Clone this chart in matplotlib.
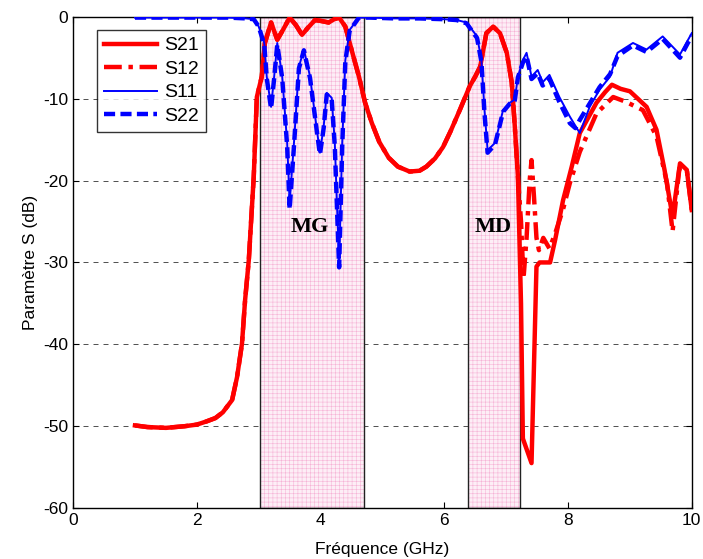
import matplotlib
matplotlib.use("Agg")
import matplotlib.pyplot as plt
from matplotlib.patches import Rectangle

plt.rcParams['font.family'] = ['Liberation Sans', 'DejaVu Sans']
plt.rcParams['axes.unicode_minus'] = False
plt.rcParams['hatch.linewidth'] = 0.4

# Transmission S21 (GHz, dB)
f_s21 = [1.0, 1.2, 1.5, 1.8, 2.0, 2.16, 2.3, 2.42, 2.57, 2.65, 2.73, 2.78, 2.84, 2.92,
         2.97, 3.05, 3.1, 3.2, 3.3, 3.4, 3.5, 3.6, 3.7, 3.8, 3.91, 4.0, 4.13, 4.22, 4.3,
         4.4, 4.5, 4.62, 4.72, 4.83, 4.95, 5.1, 5.25, 5.44, 5.6, 5.71, 5.85, 5.98, 6.1,
         6.25, 6.41, 6.5, 6.58, 6.68, 6.79, 6.9, 7.01, 7.09, 7.14, 7.19, 7.24, 7.27,
         7.41, 7.49, 7.54, 7.71, 7.79, 7.92, 8.06, 8.19, 8.46, 8.6, 8.71, 8.85, 9.0,
         9.27, 9.43, 9.56, 9.69, 9.81, 9.92, 10.0]
s21 = [-49.9, -50.1, -50.2, -50.0, -49.8, -49.4, -49.0, -48.3, -46.8, -44.0, -39.9, -34.6,
       -29.7, -19.5, -9.8, -7.3, -3.2, -0.7, -2.8, -1.5, -0.1, -1.0, -2.2, -1.3, -0.4,
       -0.5, -0.7, -0.3, -0.1, -1.2, -4.0, -7.3, -10.5, -13.0, -15.3, -17.2, -18.3,
       -18.9, -18.8, -18.3, -17.3, -15.9, -14.0, -11.4, -8.5, -7.3, -6.1, -2.0, -1.2,
       -2.0, -4.4, -8.0, -13.4, -19.5, -35.0, -51.5, -54.5, -30.5, -30.0, -30.0, -27.3,
       -22.4, -18.3, -14.2, -10.5, -9.2, -8.3, -8.8, -9.1, -11.0, -13.8, -18.7, -24.4,
       -17.9, -18.7, -23.6]

# Transmission S12 (GHz, dB)
f_s12 = [1.0, 1.2, 1.5, 1.8, 2.0, 2.16, 2.3, 2.42, 2.57, 2.65, 2.73, 2.78, 2.84, 2.92,
         2.97, 3.05, 3.1, 3.2, 3.3, 3.4, 3.5, 3.6, 3.7, 3.8, 3.91, 4.0, 4.13, 4.22, 4.3,
         4.4, 4.5, 4.62, 4.72, 4.83, 4.95, 5.1, 5.25, 5.44, 5.6, 5.71, 5.85, 5.98, 6.1,
         6.25, 6.41, 6.5, 6.58, 6.68, 6.79, 6.9, 7.01, 7.09, 7.14, 7.19, 7.24, 7.28,
         7.33, 7.38, 7.41, 7.45, 7.49, 7.53, 7.6, 7.7, 7.79, 7.92, 8.03, 8.19, 8.46,
         8.73, 8.94, 9.21, 9.43, 9.6, 9.69, 9.8, 9.92, 10.0]
s12 = [-49.9, -50.1, -50.2, -50.0, -49.8, -49.4, -49.0, -48.3, -46.8, -44.0, -39.9, -34.6,
       -29.7, -19.5, -9.8, -7.3, -3.2, -0.7, -2.8, -1.5, -0.1, -1.0, -2.2, -1.3, -0.4,
       -0.5, -0.7, -0.3, -0.1, -1.2, -4.0, -7.3, -10.5, -13.0, -15.3, -17.2, -18.3,
       -18.9, -18.8, -18.3, -17.3, -15.9, -14.0, -11.4, -8.5, -7.3, -6.1, -2.0, -1.2,
       -2.0, -4.4, -8.0, -13.4, -19.5, -25.0, -32.0, -27.0, -20.0, -17.5, -22.0, -27.0,
       -28.5, -27.0, -28.3, -26.5, -23.5, -20.3, -16.5, -11.8, -9.8, -10.4, -11.4,
       -14.6, -20.3, -26.2, -18.5, -18.7, -23.6]

# Reflection S11 (GHz, dB)
f_s11 = [1.0, 1.5, 2.0, 2.5, 2.8, 2.92, 3.0, 3.09, 3.13, 3.2, 3.25, 3.3, 3.38, 3.46, 3.5,
         3.57, 3.65, 3.73, 3.83, 3.94, 3.99, 4.05, 4.1, 4.18, 4.23, 4.3, 4.35, 4.4, 4.47,
         4.62, 4.8, 5.2, 5.6, 6.0, 6.2, 6.36, 6.53, 6.6, 6.65, 6.7, 6.82, 6.95, 7.06,
         7.14, 7.19, 7.27, 7.33, 7.41, 7.51, 7.59, 7.7, 7.86, 8.03, 8.19, 8.35, 8.51,
         8.68, 8.8, 9.05, 9.27, 9.53, 9.81, 10.0]
s11 = [-0.1, -0.1, -0.1, -0.1, -0.2, -0.3, -1.2, -3.2, -7.3, -11.0, -7.3, -3.2, -7.3,
       -15.4, -22.7, -15.4, -6.1, -4.0, -7.3, -13.8, -16.6, -13.4, -9.3, -9.9, -15.4,
       -30.3, -15.4, -5.3, -1.6, -0.1, -0.1, -0.2, -0.2, -0.3, -0.4, -0.7, -2.4, -5.3,
       -11.4, -16.3, -15.4, -11.4, -10.5, -10.1, -7.3, -5.3, -4.4, -7.3, -6.5, -8.0,
       -7.1, -9.8, -12.2, -14.2, -11.0, -8.9, -7.3, -4.4, -3.2, -4.0, -2.4, -4.6, -2.0]

# Reflection S22 (GHz, dB)
f_s22 = [1.0, 1.5, 2.0, 2.5, 2.8, 2.92, 3.0, 3.09, 3.13, 3.2, 3.25, 3.3, 3.38, 3.46, 3.5,
         3.57, 3.65, 3.73, 3.83, 3.94, 3.99, 4.05, 4.1, 4.18, 4.23, 4.3, 4.35, 4.4, 4.47,
         4.62, 4.8, 5.2, 5.6, 6.0, 6.2, 6.36, 6.53, 6.6, 6.65, 6.7, 6.82, 6.95, 7.06,
         7.14, 7.19, 7.27, 7.33, 7.41, 7.51, 7.59, 7.7, 7.86, 8.03, 8.12, 8.19, 8.35,
         8.51, 8.68, 8.8, 9.05, 9.27, 9.53, 9.81, 10.0]
s22 = [-0.1, -0.1, -0.1, -0.1, -0.2, -0.3, -1.2, -3.4, -7.5, -11.2, -7.5, -3.4, -7.5,
       -15.8, -23.5, -15.8, -6.3, -4.1, -7.5, -14.0, -16.8, -13.6, -9.5, -10.1, -15.8,
       -30.6, -15.8, -5.5, -1.7, -0.1, -0.1, -0.2, -0.2, -0.3, -0.4, -0.8, -2.6, -5.5,
       -11.8, -16.6, -15.6, -11.6, -10.6, -10.2, -7.4, -5.6, -4.8, -7.6, -6.9, -8.4,
       -7.6, -10.4, -13.0, -13.6, -12.6, -10.6, -8.6, -7.0, -4.8, -3.5, -4.3, -2.7,
       -5.0, -2.3]

# Filter bands (GHz) and their labels
bands = [(3.02, 4.70), (6.38, 7.22)]
band_labels = ["MG", "MD"]
band_label_pos = [(3.83, -25.7), (6.79, -25.7)]

fig = plt.figure(figsize=(7.03, 5.59), dpi=100)
ax = fig.add_axes([0.104, 0.091, 0.880, 0.879])

for (f0, f1), name, (tx, ty) in zip(bands, band_labels, band_label_pos):
    ax.add_patch(Rectangle((f0, -60), f1 - f0, 60, facecolor='#fdeef6',
                           edgecolor='#f6b3d6', hatch='++++', linewidth=0, zorder=1))
    ax.add_patch(Rectangle((f0, -60), f1 - f0, 60, fill=False,
                           edgecolor='#222222', linewidth=1.0, zorder=1.5))
    ax.text(tx, ty, name, family=['Liberation Serif'], fontweight='bold',
            fontsize=16, ha='center', va='center', zorder=5)

ax.plot(f_s21, s21, color='#ff0000', lw=3.2, ls='-', label='S21', zorder=3)
ax.plot(f_s12, s12, color='#ff0000', lw=3.2, ls=(0, (4, 1.5, 1, 1.5)), label='S12', zorder=3)
ax.plot(f_s11, s11, color='#0000ff', lw=1.4, ls='-', label='S11', zorder=4)
ax.plot(f_s22, s22, color='#0000ff', lw=3.2, ls=(0, (2.5, 1.2)), label='S22', zorder=4)

ax.set_xlim(0, 10)
ax.set_ylim(-60, 0)
ax.set_xticks([0, 2, 4, 6, 8, 10])
ax.set_yticks([-60, -50, -40, -30, -20, -10, 0])
ax.yaxis.grid(True, color='black', linestyle=(0, (6, 6)), linewidth=0.6, alpha=0.8)
ax.set_axisbelow(True)
ax.tick_params(direction='in', labelsize=12.5, top=True, right=True, length=4)
for sp in ax.spines.values():
    sp.set_linewidth(1.0)

ax.set_xlabel('Fréquence (GHz)', fontsize=12.5, labelpad=10)
ax.set_ylabel('Paramètre S (dB)', fontsize=12.5, labelpad=4)

leg = ax.legend(loc='upper left', bbox_to_anchor=(0.039, 0.973), borderaxespad=0,
                fontsize=14, frameon=True, fancybox=False, edgecolor='black',
                handlelength=2.7, borderpad=0.35, labelspacing=0.3, handletextpad=0.4)
leg.get_frame().set_linewidth(1.0)

fig.savefig('out.png', dpi=100)
